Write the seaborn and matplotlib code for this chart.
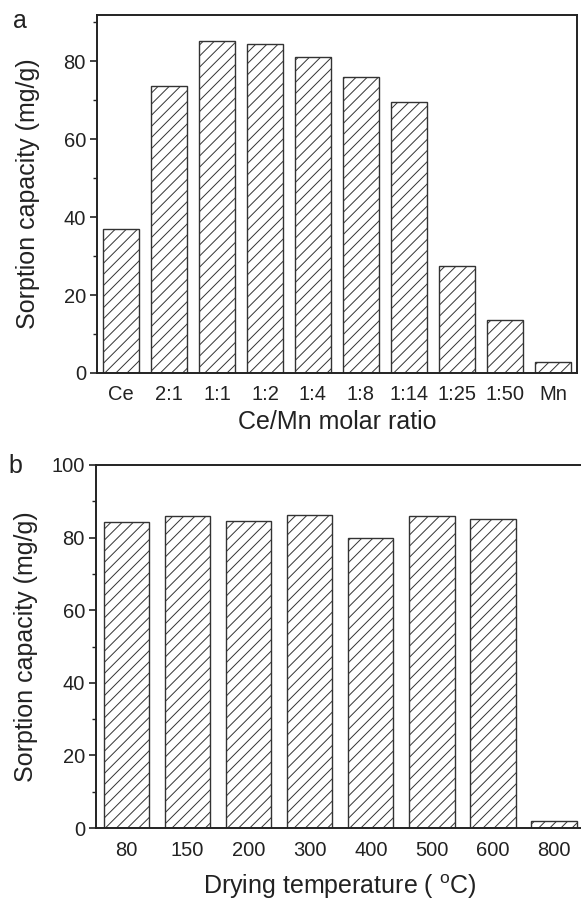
import matplotlib
matplotlib.use("Agg")
import matplotlib.pyplot as plt
import seaborn as sns
import pandas as pd
from matplotlib.ticker import MultipleLocator

# Panel a data
ratio_labels = ["Ce", "2:1", "1:1", "1:2", "1:4", "1:8", "1:14", "1:25", "1:50", "Mn"]
ratio_capacity = [36.9, 73.7, 85.2, 84.4, 81.2, 76.0, 69.6, 27.4, 13.6, 2.8]

# Panel b data
temp_labels = ["80", "150", "200", "300", "400", "500", "600", "800"]
temp_capacity = [84.2, 85.9, 84.7, 86.2, 79.8, 85.9, 85.0, 2.0]

sns.set_style("ticks")
plt.rcParams["font.family"] = ["Liberation Sans", "DejaVu Sans"]
plt.rcParams["hatch.linewidth"] = 0.7
plt.rcParams["axes.linewidth"] = 1.4

edge = "#333333"
txt = "#222222"
fig = plt.figure(figsize=(5.81, 9.01), dpi=100)

ax1 = fig.add_axes([97/581, 1-373/901, 480/581, 358.5/901])
ax2 = fig.add_axes([96/581, 1-828/901, 488.6/581, 363/901])

df1 = pd.DataFrame({"ratio": ratio_labels, "cap": ratio_capacity})
df2 = pd.DataFrame({"temp": temp_labels, "cap": temp_capacity})

sns.barplot(data=df1, x="ratio", y="cap", ax=ax1, color="white", edgecolor=edge,
            linewidth=1.0, width=0.76, hatch="///", saturation=1)
sns.barplot(data=df2, x="temp", y="cap", ax=ax2, color="white", edgecolor=edge,
            linewidth=1.0, width=0.74, hatch="///", saturation=1)

for ax in (ax1, ax2):
    for s in ax.spines.values():
        s.set_visible(True)
        s.set_color(txt)
        s.set_linewidth(1.4)
    ax.yaxis.set_minor_locator(MultipleLocator(10))
    ax.yaxis.set_major_locator(MultipleLocator(20))
    ax.tick_params(axis="y", which="major", direction="out", length=5, width=1.2,
                   labelsize=14.5, colors=txt, pad=3)
    ax.tick_params(axis="y", which="minor", direction="out", length=3, width=1.0,
                   colors=txt)
    ax.tick_params(axis="x", which="both", length=0, labelsize=14.5, colors=txt, pad=9)
    ax.set_ylabel("Sorption capacity (mg/g)", fontsize=18, color=txt)

ax1.set_xlim(-0.5, 9.5)
ax1.set_ylim(0, 92)
ax1.set_xlabel("Ce/Mn molar ratio", fontsize=18, color=txt)
ax1.yaxis.set_label_coords((40-97)/480, 0.5)
ax1.xaxis.set_label_coords(0.5, -(410-373)/358.5)

ax2.set_xlim(-0.5, 7.5)
ax2.set_ylim(0, 100)
ax2.set_xlabel("Drying temperature ( $^{\\mathregular{o}}$C)", fontsize=18, color=txt)
ax2.yaxis.set_label_coords((38-96)/488.6, 0.5)
ax2.xaxis.set_label_coords(0.5, -(872-828)/363)

fig.text(13/581, 1-28/901, "a", fontsize=18, color=txt, va="baseline", ha="left")
fig.text(8/581, 1-473/901, "b", fontsize=18, color=txt, va="baseline", ha="left")

fig.savefig("out.png", dpi=100)
